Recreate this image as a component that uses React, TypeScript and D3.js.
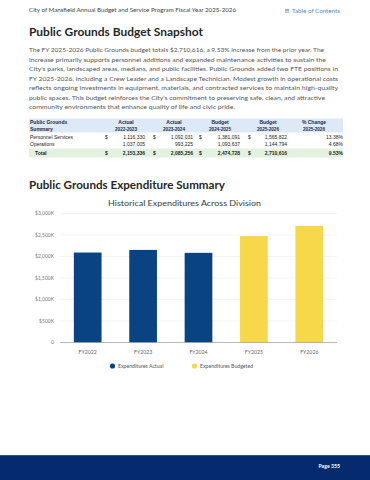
import React from 'react';
import * as d3 from 'd3';

// chart data
const years = ['FY2022', 'FY2023', 'FY2024', 'FY2025', 'FY2026'];
const expenditures = [2092, 2153, 2085, 2475, 2711]; // $K
const budgeted = [false, false, false, true, true];
const yTicks = [0, 500, 1000, 1500, 2000, 2500, 3000];
const legendLabels = ['Expenditures Actual', 'Expenditures Budgeted'];

// summary table
const tableHeads = [['Actual', '2022-2023'], ['Actual', '2023-2024'], ['Budget', '2024-2025'], ['Budget', '2025-2026'], ['% Change', '2025-2026']];
const rowNames = ['Personnel Services', 'Operations'];
const personnel = ['1,116,330', '1,092,031', '1,381,091', '1,565,822', '13.38%'];
const operations = ['1,037,005', '993,225', '1,093,637', '1,144,794', '4.68%'];
const totals = ['2,153,336', '2,085,256', '2,474,728', '2,710,616', '9.53%'];

const paragraph = [
  'The FY 2025-2026 Public Grounds budget totals $2,710,616, a 9.53% increase from the prior year. The',
  'increase primarily supports personnel additions and expanded maintenance activities to sustain the',
  "City's parks, landscaped areas, medians, and public facilities. Public Grounds added two FTE positions in",
  'FY 2025-2026, including a Crew Leader and a Landscape Technician. Modest growth in operational costs',
  'reflects ongoing investments in equipment, materials, and contracted services to maintain high-quality',
  "public spaces. This budget reinforces the City's commitment to preserving safe, clean, and attractive",
  'community environments that enhance quality of life and civic pride.',
];
const paraWidths = [295, 297, 309, 309, 309, 296, 206];

const NAVY = '#0a4382';
const YELLOW = '#f8d84b';
const font = 'Lato, "Open Sans", sans-serif';
const tfont = '"Liberation Sans", Arial, sans-serif';

const App = () => {
  const W = 370, H = 480;
  const plot = { left: 60, right: 337, top: 213.5, bottom: 342.5 };

  const x = d3.scaleBand().domain(years).range([plot.left, plot.right]).paddingInner(0.5).paddingOuter(0.25);
  const y = d3.scaleLinear().domain([0, 3000]).range([plot.bottom, plot.top]);
  const fmt = (v: number) => (v === 0 ? '0' : '$' + d3.format(',')(v) + 'K');

  const valEnds = [145, 193, 240, 287, 343];
  const dollarX = [105, 153, 199, 248];
  const headCenters = [126, 174, 220, 268, 314];

  const valueRow = (vals: string[], yy: number, bold = false) =>
    vals.map((v, i) => (
      <text key={i} x={valEnds[i]} y={yy} textAnchor="end" fontSize={5} fontWeight={bold ? 700 : 400} fontFamily={tfont} fill="#222">{v}</text>
    ));

  return (
    <svg width={W} height={H} style={{ position: 'fixed', left: 0, top: 0, background: '#fff' }}>
      {/* page header */}
      <text x={29} y={12} fontSize={5.4} fontFamily={font} fill="#444" textLength={207} lengthAdjust="spacingAndGlyphs">City of Mansfield Annual Budget and Service Program Fiscal Year 2025-2026</text>
      <g fill="#5a86cf">
        <rect x={285} y={9} width={4} height={0.7} />
        <rect x={285} y={10.4} width={4} height={0.7} />
        <rect x={285} y={11.8} width={4} height={0.7} />
      </g>
      <text x={292} y={12.5} fontSize={5.6} fontFamily={font} fill="#5a86cf" textLength={48} lengthAdjust="spacingAndGlyphs">Table of Contents</text>

      <text x={29} y={36} fontSize={10.5} fontWeight={700} fontFamily={font} fill="#262626" textLength={174} lengthAdjust="spacingAndGlyphs">Public Grounds Budget Snapshot</text>

      {paragraph.map((l, i) => (
        <text key={i} x={29} y={52.3 + i * 9.45} fontSize={6.2} fontFamily={font} fill="#555" textLength={paraWidths[i]} lengthAdjust="spacingAndGlyphs">{l}</text>
      ))}

      {/* summary table */}
      <rect x={29} y={118.5} width={314} height={14} fill="#dde9f6" />
      <text x={30} y={124} fontSize={5} fontWeight={700} fontFamily={tfont} fill="#1f2a44">Public Grounds</text>
      <text x={30} y={130.5} fontSize={5} fontWeight={700} fontFamily={tfont} fill="#1f2a44">Summary</text>
      {tableHeads.map((h, i) => (
        <g key={i} fontFamily={tfont} fontWeight={700} fontSize={5} fill="#1f2a44" textAnchor="middle">
          <text x={headCenters[i]} y={124}>{h[0]}</text>
          <text x={headCenters[i]} y={130.5} fontSize={4.6}>{h[1]}</text>
        </g>
      ))}
      <text x={30} y={139} fontSize={5} fontFamily={tfont} fill="#222">{rowNames[0]}</text>
      {dollarX.map((dx, i) => (
        <text key={i} x={dx} y={139} fontSize={5} fontFamily={tfont} fill="#222">$</text>
      ))}
      {valueRow(personnel, 139)}
      <text x={30} y={145.5} fontSize={5} fontFamily={tfont} fill="#222">{rowNames[1]}</text>
      {valueRow(operations, 145.5)}
      <rect x={29} y={148.5} width={314} height={9} fill="#e3f2df" />
      <text x={35} y={155} fontSize={5} fontWeight={700} fontFamily={tfont} fill="#222">Total</text>
      {dollarX.map((dx, i) => (
        <text key={i} x={dx} y={155} fontSize={5} fontWeight={700} fontFamily={tfont} fill="#222">$</text>
      ))}
      {valueRow(totals, 155, true)}

      <text x={29} y={189} fontSize={10.5} fontWeight={700} fontFamily={font} fill="#262626" textLength={196} lengthAdjust="spacingAndGlyphs">Public Grounds Expenditure Summary</text>

      {/* chart */}
      <text x={184.5} y={205.5} textAnchor="middle" fontSize={7.3} fontFamily={font} fill="#3a3a3a" textLength={153} lengthAdjust="spacingAndGlyphs">Historical Expenditures Across Division</text>
      {yTicks.map(t => (
        <g key={t}>
          {t > 0 && <line x1={plot.left} x2={plot.right} y1={y(t)} y2={y(t)} stroke="#ececec" strokeWidth={0.6} />}
          <text x={54} y={y(t) + 1.8} textAnchor="end" fontSize={5} fontFamily={font} fill="#777">{fmt(t)}</text>
        </g>
      ))}
      {years.map((yr, i) => (
        <rect key={yr} x={x(yr)} y={y(expenditures[i])} width={x.bandwidth()} height={y(0) - y(expenditures[i])} fill={budgeted[i] ? YELLOW : NAVY} />
      ))}
      <line x1={plot.left} x2={plot.right} y1={y(0)} y2={y(0)} stroke="#9a9a9a" strokeWidth={0.7} />
      {years.map(yr => (
        <text key={yr} x={(x(yr) as number) + x.bandwidth() / 2} y={354} textAnchor="middle" fontSize={5.2} fontFamily={font} fill="#666">{yr}</text>
      ))}

      {/* legend */}
      <circle cx={112.5} cy={366} r={2.6} fill={NAVY} />
      <text x={118} y={368} fontSize={5.2} fontFamily={font} fill="#555">{legendLabels[0]}</text>
      <circle cx={194.5} cy={366} r={2.6} fill={YELLOW} />
      <text x={200} y={368} fontSize={5.2} fontFamily={font} fill="#555">{legendLabels[1]}</text>

      {/* footer */}
      <rect x={0} y={455} width={W} height={25} fill="#052b6e" />
      <rect x={0} y={455} width={W} height={0.8} fill="#3b5d93" />
      <text x={340} y={467.5} textAnchor="end" fontSize={5.2} fontWeight={700} fontFamily={font} fill="#fff">Page 355</text>
    </svg>
  );
};

export default App;
